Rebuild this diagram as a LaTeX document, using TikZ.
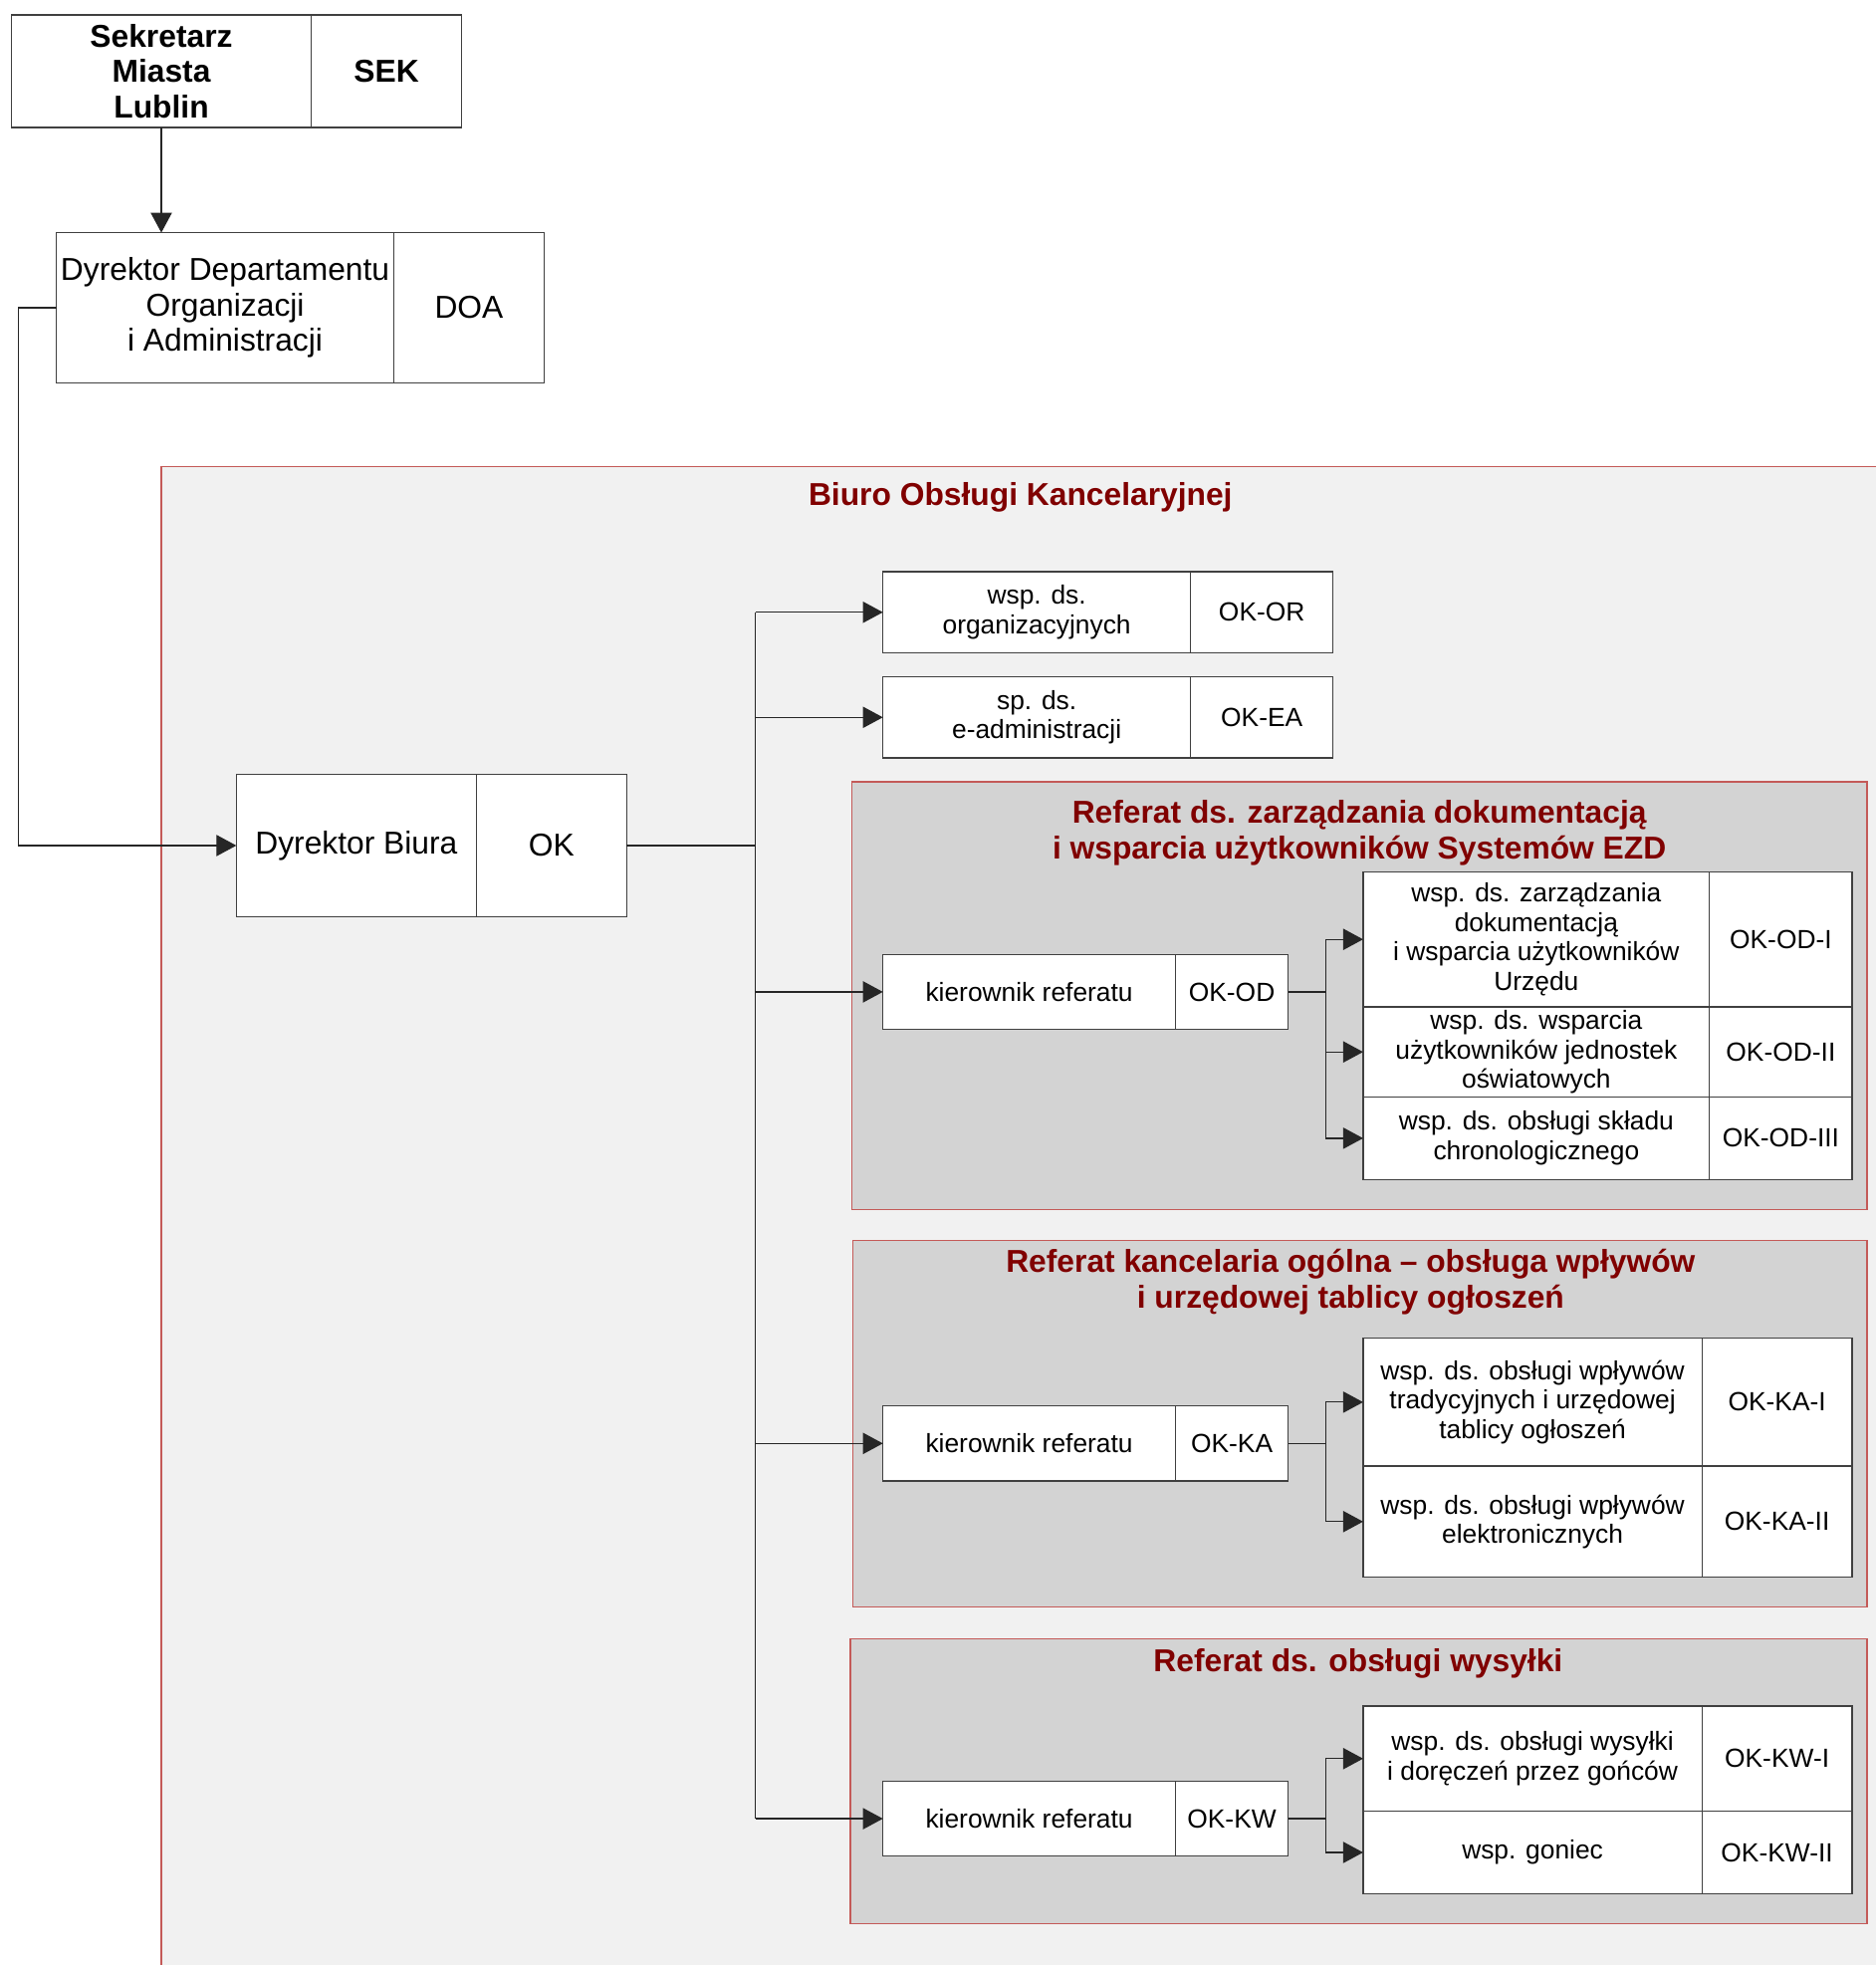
\documentclass[tikz,border=0pt]{standalone}
\usepackage{fontspec}
\setmainfont{Liberation Sans}
\usepackage{xcolor}
\usetikzlibrary{arrows.meta, positioning}

\definecolor{unitred}{RGB}{128,0,0}
\definecolor{framered}{RGB}{196,90,88}
\definecolor{officegray}{RGB}{241,241,241}
\definecolor{refgray}{RGB}{211,211,211}

\begin{document}
\begin{tikzpicture}[x=1pt, y=-1pt,
        every node/.style={draw=black!75, fill=white, rectangle, inner sep=0pt, outer sep=0pt, align=center, line width=1pt},
        big/.style={font=\fontsize{25.3}{28.5}\selectfont},
        bigbold/.style={font=\fontsize{25.3}{28.5}\selectfont\bfseries},
        small/.style={font=\fontsize{21}{23.5}\selectfont},
        title/.style={draw=none, fill=none, text=unitred, font=\fontsize{25.3}{28.5}\selectfont\bfseries},
        link/.style={line width=1pt, black!85},
        arr/.style={link, -{Triangle[length=16pt, width=17pt]}},
        frame/.style={draw=framered, line width=1pt}]
        \useasboundingbox (0,0) rectangle (1500,1571);

        % Units
        \draw[frame, fill=officegray] (129,373) rectangle (1530,1600);
        \draw[frame, fill=refgray] (681,625) rectangle (1493,967);
        \draw[frame, fill=refgray] (682,992) rectangle (1493,1285);
        \draw[frame, fill=refgray] (680,1310) rectangle (1493,1538);
        \node[title] (biuro) at (816,398) {Biuro Obsługi Kancelaryjnej};
        \node[title] (refod) at (1087,666) {Referat ds. zarządzania dokumentacją\\i wsparcia użytkowników Systemów EZD};
        \node[title] (refka) at (1080,1025) {Referat kancelaria ogólna – obsługa wpływów\\i urzędowej tablicy ogłoszeń};
        \node[title] (refkw) at (1086,1330) {Referat ds. obsługi wysyłki};

        % Top posts
        \node[bigbold, minimum width=240, minimum height=90] (sekretarz) at (129,57) {Sekretarz\\Miasta\\Lublin};
        \node[bigbold, right=0pt of sekretarz, minimum width=120, minimum height=90] (sek) {SEK};
        \node[big, minimum width=270, minimum height=120] (dep) at (180,246) {Dyrektor Departamentu\\Organizacji\\i Administracji};
        \node[big, right=0pt of dep, minimum width=120, minimum height=120] (doa) {DOA};
        \node[big, minimum width=192, minimum height=114] (dyr) at (285,676) {Dyrektor Biura};
        \node[big, right=0pt of dyr, minimum width=120, minimum height=114] (ok) {OK};

        % Stand-alone posts
        \node[small, minimum width=246, minimum height=65] (organiz) at (829,489.5) {wsp. ds.\\organizacyjnych};
        \node[small, right=0pt of organiz, minimum width=114, minimum height=65] (okor) {OK-OR};
        \node[small, minimum width=246, minimum height=65] (eadm) at (829,573.5) {sp. ds.\\e-administracji};
        \node[small, right=0pt of eadm, minimum width=114, minimum height=65] (okea) {OK-EA};

        % Referat OD
        \node[small, minimum width=234, minimum height=60] (kierod) at (823,793) {kierownik referatu};
        \node[small, right=0pt of kierod, minimum width=90, minimum height=60] (okod) {OK-OD};
        \node[small, minimum width=277, minimum height=108] (zarzadz) at (1228.5,751) {wsp. ds. zarządzania\\dokumentacją\\i wsparcia użytkowników\\Urzędu};
        \node[small, right=0pt of zarzadz, minimum width=114, minimum height=108] (okodi) {OK-OD-I};
        \node[small, below=0pt of zarzadz, minimum width=277, minimum height=72] (wsparcie) {wsp. ds. wsparcia\\użytkowników jednostek\\oświatowych};
        \node[small, right=0pt of wsparcie, minimum width=114, minimum height=72] (okodii) {OK-OD-II};
        \node[small, below=0pt of wsparcie, minimum width=277, minimum height=66] (sklad) {wsp. ds. obsługi składu\\chronologicznego};
        \node[small, right=0pt of sklad, minimum width=114, minimum height=66] (okodiii) {OK-OD-III};

        % Referat KA
        \node[small, minimum width=234, minimum height=60] (kierka) at (823,1154) {kierownik referatu};
        \node[small, right=0pt of kierka, minimum width=90, minimum height=60] (okka) {OK-KA};
        \node[small, minimum width=271, minimum height=102] (tradyc) at (1225.5,1121) {wsp. ds. obsługi wpływów\\tradycyjnych i urzędowej\\tablicy ogłoszeń};
        \node[small, right=0pt of tradyc, minimum width=120, minimum height=102] (okkai) {OK-KA-I};
        \node[small, below=0pt of tradyc, minimum width=271, minimum height=89] (elektr) {wsp. ds. obsługi wpływów\\elektronicznych};
        \node[small, right=0pt of elektr, minimum width=120, minimum height=89] (okkaii) {OK-KA-II};

        % Referat KW
        \node[small, minimum width=234, minimum height=60] (kierkw) at (823,1454) {kierownik referatu};
        \node[small, right=0pt of kierkw, minimum width=90, minimum height=60] (okkw) {OK-KW};
        \node[small, minimum width=271, minimum height=84] (gonce) at (1225.5,1406) {wsp. ds. obsługi wysyłki\\i doręczeń przez gońców};
        \node[small, right=0pt of gonce, minimum width=120, minimum height=84] (okkwi) {OK-KW-I};
        \node[small, below=0pt of gonce, minimum width=271, minimum height=66] (goniec) {wsp. goniec};
        \node[small, right=0pt of goniec, minimum width=120, minimum height=66] (okkwii) {OK-KW-II};

        % Connecting lines
        \draw[arr] (sekretarz.south) -- (sekretarz.south |- dep.north);
        \draw[arr] (dep.west) -- ++(-30,0) |- (dyr.west);
        \draw[link] (ok.east) -- ++(103,0) coordinate (split);
        \draw[link] (split |- organiz.west) -- (split |- kierkw.west);
        \foreach \n in {organiz, eadm, kierod, kierka, kierkw}
            \draw[arr] (split |- \n.west) -- (\n.west);

        \draw[link] (okod.east) -- ++(30,0) coordinate (odsplit);
        \draw[link] (odsplit |- zarzadz.west) -- (odsplit |- sklad.west);
        \foreach \n in {zarzadz, wsparcie, sklad}
            \draw[arr] (odsplit |- \n.west) -- (\n.west);

        \draw[link] (okka.east) -- ++(30,0) coordinate (kasplit);
        \draw[link] (kasplit |- tradyc.west) -- (kasplit |- elektr.west);
        \foreach \n in {tradyc, elektr}
            \draw[arr] (kasplit |- \n.west) -- (\n.west);

        \draw[link] (okkw.east) -- ++(30,0) coordinate (kwsplit);
        \draw[link] (kwsplit |- gonce.west) -- (kwsplit |- goniec.west);
        \foreach \n in {gonce, goniec}
            \draw[arr] (kwsplit |- \n.west) -- (\n.west);
\end{tikzpicture}
\end{document}
